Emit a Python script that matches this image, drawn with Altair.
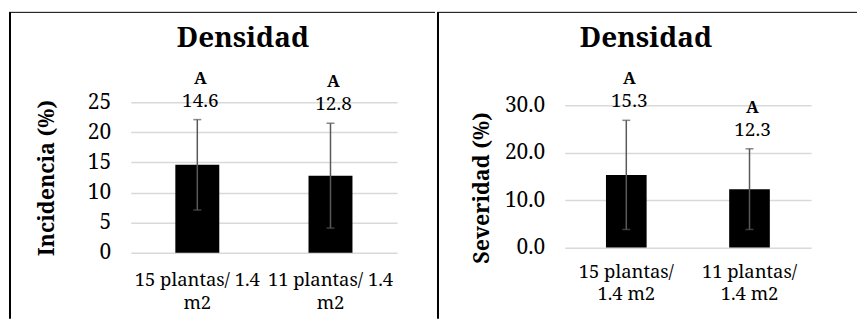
import altair as alt
import pandas as pd

categories = ["15 plantas/ 1.4 m2", "11 plantas/ 1.4 m2"]
incidencia = [14.6, 12.8]
incidencia_err = [7.5, 8.7]
severidad = [15.3, 12.3]
severidad_err = [11.5, 8.5]
letras_inc = ["A", "A"]
letras_sev = ["A", "A"]
inc_ticks = [0, 5, 10, 15, 20, 25]
sev_ticks = [0, 10, 20, 30]
titulo = "Densidad"
ytitle_inc = "Incidencia (%)"
ytitle_sev = "Severidad (%)"

FONT = "Noto Serif"
ERR_COLOR = "#595959"


def panel(values, errs, letters, ytitle, ticks, fmt, width, height, yrange,
          split_at, lab_pad, lab_lh, title_x, title_y, title_dx, borders):
    df = pd.DataFrame({"cat": categories, "val": values, "err": errs, "letra": letters})
    df["lo"] = df["val"] - df["err"]
    df["hi"] = df["val"] + df["err"]
    base = alt.Chart(df)

    x = alt.X(
        "cat:N", sort=categories,
        scale=alt.Scale(paddingInner=0.67, paddingOuter=0.335),
        axis=alt.Axis(
            title=None, labelAngle=0, domain=False, ticks=False,
            labelFont=FONT, labelFontSize=18.5, labelColor="black",
            labelPadding=lab_pad, labelLineHeight=lab_lh, labelOverlap=False,
            labelExpr=f"[substring(datum.label, 0, {split_at}), substring(datum.label, {split_at + 1})]",
        ),
    )
    yscale = alt.Scale(domain=[ticks[0], ticks[-1]], nice=False)
    if yrange is not None:
        yscale = alt.Scale(domain=[ticks[0], ticks[-1]], nice=False, range=yrange)
    y = alt.Y(
        "val:Q", scale=yscale,
        axis=alt.Axis(
            values=ticks, tickCount=len(ticks), format=fmt, title=ytitle, domain=False, ticks=False,
            grid=True, gridColor="#d9d9d9", gridWidth=1.5, labelOverlap=False,
            labelFont=FONT, labelFontSize=21, labelColor="black", labelPadding=20,
            titleFont=FONT, titleFontSize=21.5, titleFontWeight="bold", titleColor="black",
            titleX=title_x, titleY=title_y, titleBaseline="middle", titleAlign="center",
            titleAngle=270,
        ),
    )

    bars = base.mark_bar(color="black").encode(x=x, y=y)
    whisk = base.mark_rule(color=ERR_COLOR, strokeWidth=1.5).encode(x=x, y=alt.Y("lo:Q"), y2="hi:Q")
    cap_hi = base.mark_tick(color=ERR_COLOR, size=8, thickness=1.5).encode(x=x, y="hi:Q")
    cap_lo = base.mark_tick(color=ERR_COLOR, size=8, thickness=1.5).encode(x=x, y="lo:Q")
    vals = base.mark_text(font=FONT, fontSize=19, color="black", baseline="alphabetic",
                          dy=-13, dx=3).encode(x=x, y="hi:Q", text=alt.Text("val:Q", format=".1f"))
    lets = base.mark_text(font=FONT, fontSize=17, fontWeight="bold", color="black",
                          baseline="alphabetic", dy=-36, dx=3).encode(x=x, y="hi:Q", text="letra:N")

    one = alt.Chart(pd.DataFrame({"b": [0]}))
    rules = []
    for (x1, x2, y1, y2, w) in borders:
        enc = {"x": alt.value(x1), "y": alt.value(y1)}
        if x2 is not None:
            enc["x2"] = alt.value(x2)
        if y2 is not None:
            enc["y2"] = alt.value(y2)
        rules.append(one.mark_rule(color="black", strokeWidth=w).encode(**enc))

    return alt.layer(bars, whisk, cap_hi, cap_lo, vals, lets, *rules).properties(
        width=width, height=height,
        title=alt.Title(titulo, font=FONT, fontSize=28, fontWeight="bold", color="black",
                        anchor="middle", frame="group", dx=title_dx, dy=42, offset=0),
    )


left = panel(incidencia, incidencia_err, letras_inc, ytitle_inc, inc_ticks, "d",
             267, 151, None, 15, 18, 22.5, -83, 75.5, -21,
             [(-121, None, -90, 217, 2), (-122, 305, -90, None, 1)])
right = panel(severidad, severidad_err, letras_sev, ytitle_sev, sev_ticks, ".1f",
              247, 146, [145.7, 3], 11, 15, 22, -82, 85.5, -42,
              [(-127, None, -90, 217, 2), (-128, 293, -90, None, 1)])

chart = alt.hconcat(left, right, spacing=0).properties(
    padding={"left": 0, "top": 3, "right": 0, "bottom": 0}
).configure_view(stroke=None)

chart.save("out.html", embed_options={"renderer": "svg", "actions": False})
